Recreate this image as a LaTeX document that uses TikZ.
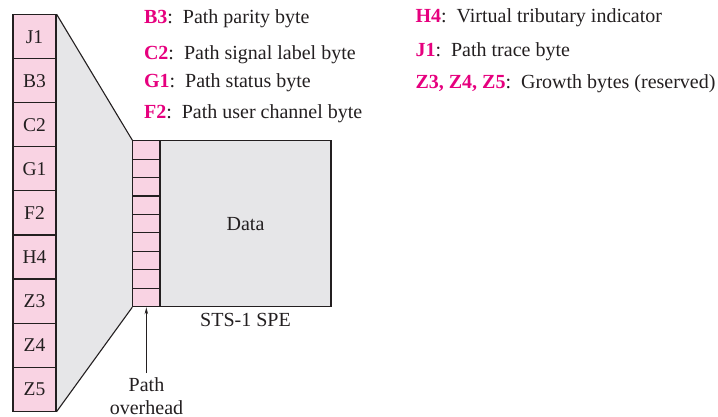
\documentclass[tikz,border=0pt]{standalone}
\usepackage{fontspec}
\setmainfont{Liberation Serif}
\usetikzlibrary{arrows.meta,backgrounds}
\definecolor{pinkfill}{HTML}{F9D3E3}
\definecolor{grayfill}{HTML}{E6E6E8}
\definecolor{mag}{HTML}{E6007E}
\definecolor{ink}{HTML}{231F20}
\begin{document}
\begin{tikzpicture}[x=1pt,y=-1pt, line width=1.1pt,
  bigcell/.style={draw=ink, fill=pinkfill, minimum width=43pt, minimum height=44.05pt, inner sep=0pt, font=\fontsize{19.5}{21}\selectfont, text=ink},
  smallcell/.style={draw=ink, fill=pinkfill, minimum width=27pt, minimum height=18.44pt, inner sep=0pt},
  lbl/.style={anchor=base west, inner sep=0pt, font=\fontsize{20}{23}\selectfont, text=ink},
  txt/.style={inner sep=0pt, font=\fontsize{20}{23.3}\selectfont, text=ink}]
\useasboundingbox (0,0) rectangle (718,417);
% big column
\foreach \n [count=\i from 0] in {J1,B3,C2,G1,F2,H4,Z3,Z4,Z5}{
  \node[bigcell] (\n) at (34.5, 14.7+22.025+44.05*\i) {\n};
}
% data box
\node[draw=ink, fill=grayfill, minimum width=171pt, minimum height=166pt, inner sep=0pt, txt] (data) at (245.5,223.7) {Data};
% small column
\foreach \i in {1,...,9}{
  \node[smallcell] (o\i) at (146.35, 140.7-9.22+18.44*\i) {};
}
\begin{scope}[on background layer]
  \fill[grayfill] (J1.north east) -- (o1.north west) -- (o9.south west) -- (Z5.south east) -- cycle;
\end{scope}
\draw[ink] (J1.north east) -- (o1.north west);
\draw[ink] (Z5.south east) -- (o9.south west);
% labels
\node[txt, anchor=base] (spe) at (245.5,326.7) {STS-1 SPE};
\node[txt, anchor=base] (po1) at (146.5,391.5) {Path};
\node[txt, anchor=base] (po2) at (146.5,414.3) {overhead};
\coordinate (tail) at (146.35,373);
\draw[ink, line width=0.8pt, -{Stealth[length=7pt,width=3.5pt]}] (tail) -- (o9.south);
% legend
\node[lbl] (lb3) at (143.5,23.3) {\textcolor{mag}{\textbf{B3}}:\hspace{0.5em}Path parity byte};
\node[lbl] (lc2) at (143.5,60) {\textcolor{mag}{\textbf{C2}}:\hspace{0.5em}Path signal label byte};
\node[lbl] (lg1) at (143.5,87.3) {\textcolor{mag}{\textbf{G1}}:\hspace{0.5em}Path status byte};
\node[lbl] (lf2) at (143.5,119) {\textcolor{mag}{\textbf{F2}}:\hspace{0.5em}Path user channel byte};
\node[lbl] (lh4) at (415,22.7) {\textcolor{mag}{\textbf{H4}}:\hspace{0.5em}Virtual tributary indicator};
\node[lbl] (lj1) at (415,56.7) {\textcolor{mag}{\textbf{J1}}:\hspace{0.5em}Path trace byte};
\node[lbl] (lz) at (415,89) {\textcolor{mag}{\textbf{Z3, Z4, Z5}}:\hspace{0.5em}Growth bytes (reserved)};
\end{tikzpicture}
\end{document}
